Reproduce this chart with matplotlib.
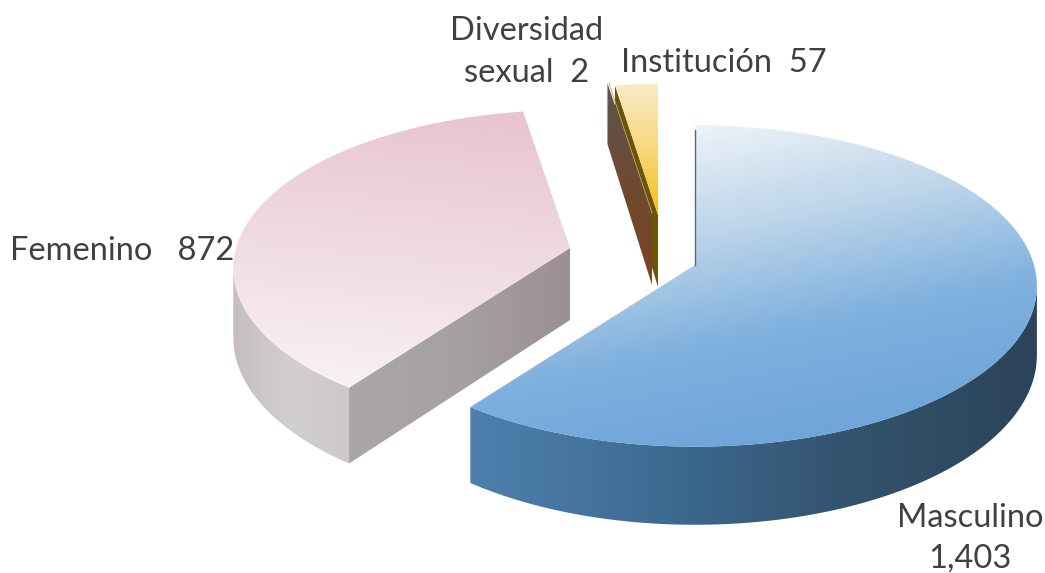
"""Exploded 3D style pie, drawn by hand since matplotlib has no 3D pie."""
import matplotlib
matplotlib.use("Agg")
import matplotlib.pyplot as plt
from matplotlib.colors import LinearSegmentedColormap
from matplotlib.patches import Polygon
import numpy as np

categories = ["Masculino", "Femenino", "Diversidad sexual", "Institución"]
values = [1403, 872, 2, 57]

W, H = 1045, 573
RX, RY, K, DEPTH = 339, 158, 0.13, 68

fig = plt.figure(figsize=(W / 100, H / 100), dpi=100)
ax = fig.add_axes([0, 0, 1, 1])
ax.set_xlim(0, W)
ax.set_ylim(H, 0)
ax.axis("off")

xx, yy = np.meshgrid(np.arange(W), np.arange(H))

# slice angles, clockwise from 12 o'clock
sweeps = np.array(values) / sum(values) * 360
ends = np.cumsum(sweeps)
starts = ends - sweeps

# the rim is widest here, the side wall is hidden beyond it
silhouette = np.degrees(np.arccos(-K))


def project(apex, theta, r=1.0):
    t = np.radians(theta)
    X, Y = r * np.sin(t), r * np.cos(t)
    w = 1 + K * Y
    return apex[0] + RX * X / w, apex[1] - RY * Y / w, w


def grad_fill(pts, colors, dx=0.0, dy=0.0, zorder=2):
    """Fill a polygon with a linear gradient running along (dx, dy)."""
    pts = np.asarray(pts)
    g = xx * dx + yy * dy
    corners = pts[:, 0] * dx + pts[:, 1] * dy
    g = np.clip((g - corners.min()) / (corners.max() - corners.min()), 0, 1)
    cmap = LinearSegmentedColormap.from_list("g", colors)
    im = ax.imshow(g, cmap=cmap, extent=(0, W, H, 0), aspect="auto",
                   vmin=0, vmax=1, zorder=zorder, interpolation="bilinear")
    clip = Polygon(pts, closed=True, transform=ax.transData, fc="none", ec="none")
    ax.add_patch(clip)
    im.set_clip_path(clip)


def face(apex, a0, a1, r=1.0):
    th = np.linspace(a0, a1, 200)
    x, y, _ = project(apex, th, r)
    return np.vstack([[apex], np.column_stack([x, y])])


def rim_wall(apex, a0, a1, r=1.0):
    th = np.linspace(a0, a1, 200)
    x, y, w = project(apex, th, r)
    top = np.column_stack([x, y])
    bot = np.column_stack([x, y + DEPTH / w])
    return np.vstack([top, bot[::-1]])


def edge_wall(apex, theta, r=1.0):
    x, y, w = project(apex, theta, r)
    return [apex, (x, y), (x, y + DEPTH / w), (apex[0], apex[1] + DEPTH + 4)]


# Femenino
ap = (570, 248)
a0, a1 = starts[1], ends[1]
grad_fill(rim_wall(ap, a0, 360 - silhouette, 0.985),
          ["#C6BEC1", "#D2CFD0", "#CDC9CA"], dx=1, zorder=2)
grad_fill(edge_wall(ap, a0, 0.985), ["#ABA6A7", "#A5A0A1", "#9C8F92"], dx=1, zorder=2)
grad_fill(face(ap, a0, a1, 0.985), ["#E8C3D0", "#F0DAE2", "#F8F2F5"], dx=-0.1, dy=1, zorder=3)

# Institución
ap = (658, 215)
a0, a1 = starts[3], ends[3]
ax.add_patch(Polygon(edge_wall(ap, a0, 0.93), closed=True, fc="#6B5508", ec="none", zorder=3))
grad_fill(face(ap, a0, a1, 0.93), ["#F9EAC4", "#F8D77E", "#F5BE10"], dy=1, zorder=4)

# Diversidad sexual
ap = (652, 213)
grad_fill(edge_wall(ap, starts[2], 0.93), ["#5E5452", "#6E4A30", "#7A4520"], dy=1, zorder=5)
ax.plot(*np.array(face(ap, starts[2], ends[2], 0.93))[[0, -1]].T, color="#B9A98C", lw=0.6, zorder=6)

# Masculino
ap = (695, 265)
a0, a1 = starts[0], ends[0]
grad_fill(rim_wall(ap, silhouette, a1),
          ["#2C4459", "#33536E", "#3E6B92", "#4E80AE"], dx=-1, zorder=2)
grad_fill(face(ap, a0, a1), ["#EDF3F8", "#BCD4EA", "#7FB0DE", "#6FA5DA"],
          dx=0.2, dy=1, zorder=3)
x_top, y_top, _ = project(ap, a0)
ax.plot([x_top, ap[0]], [y_top + 5, ap[1]], color="#4A6A80", lw=1, zorder=4)

# labels
txt = dict(family="Lato", fontsize=23.5, color="#404040", zorder=10)
ax.text(527, 31, "Diversidad", ha="center", va="center", **txt)
ax.text(527, 73, f"sexual  {values[2]}", ha="center", va="center", **txt)
ax.text(621, 63, f"Institución  {values[3]}", ha="left", va="center", **txt)
ax.text(10, 251, f"Femenino   {values[1]}", ha="left", va="center", **txt)
ax.text(970, 518, "Masculino", ha="center", va="center", **txt)
ax.text(970, 559, f"{values[0]:,}", ha="center", va="center", **txt)

fig.savefig("out.png", dpi=100, facecolor="white")
plt.close(fig)
